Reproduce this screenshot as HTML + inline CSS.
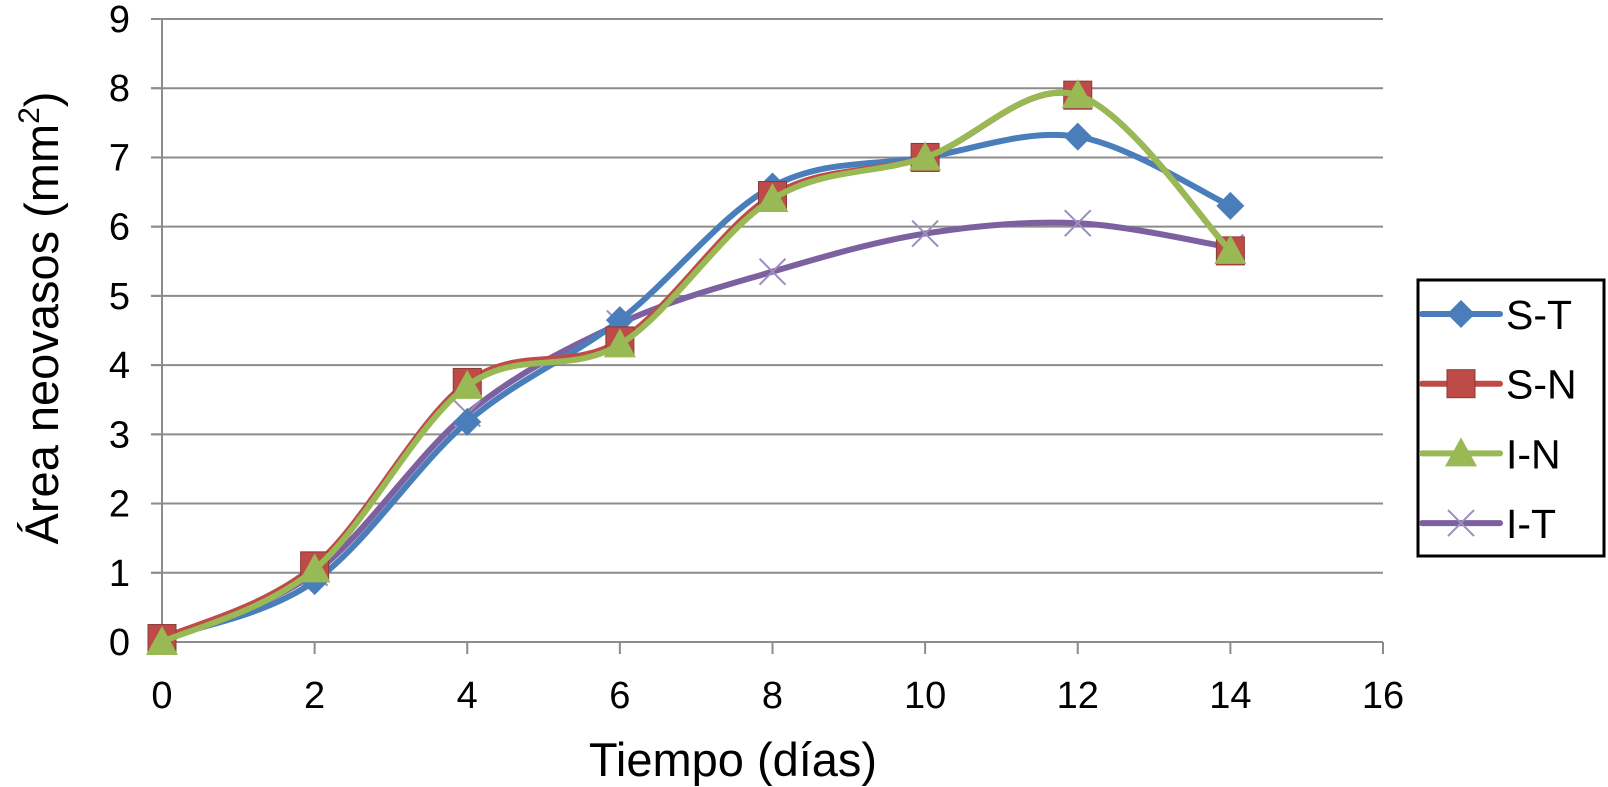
<!DOCTYPE html>
<html><head><meta charset="utf-8"><style>
html,body{margin:0;padding:0;background:#fff;}
svg{display:block;font-family:"Liberation Sans",sans-serif;}
</style></head><body>
<svg id="chart" width="1608" height="787" viewBox="0 0 1608 787">
<g id="grid"></g>
<g id="axes"></g>
<g id="series"></g>
<text x="733" y="776" font-size="47" text-anchor="middle" fill="#000">Tiempo (días)</text>
<text transform="translate(58,318) rotate(-90)" font-size="47" text-anchor="middle" fill="#000">Área neovasos (mm<tspan font-size="30" dy="-19">2</tspan><tspan dy="19">)</tspan></text>
<g id="legend">
<rect x="1418" y="280" width="186" height="276" fill="#fff" stroke="#000" stroke-width="3"/>
</g>
</svg>
<script>
const xDays = [0, 2, 4, 6, 8, 10, 12, 14];
const seriesNames = ["S-T", "S-N", "I-N", "I-T"];
const valuesST = [0.05, 0.88, 3.18, 4.65, 6.58, 7.0, 7.3, 6.3];
const valuesSN = [0.05, 1.1, 3.75, 4.35, 6.45, 7.0, 7.9, 5.65];
const valuesIN = [0.0, 1.05, 3.7, 4.3, 6.4, 7.0, 7.9, 5.65];
const valuesIT = [0.05, 1.0, 3.3, 4.6, 5.35, 5.9, 6.05, 5.7];
const xTicks = [0, 2, 4, 6, 8, 10, 12, 14, 16];
const yTicks = [0, 1, 2, 3, 4, 5, 6, 7, 8, 9];

const NS = "http://www.w3.org/2000/svg";
const X0 = 162, X1 = 1383, Y0 = 642, Y1 = 19;
const sx = v => X0 + v / 16 * (X1 - X0);
const sy = v => Y0 - v / 9 * (Y0 - Y1);
function mk(tag, attrs, parent) {
  const e = document.createElementNS(NS, tag);
  for (const k in attrs) e.setAttribute(k, attrs[k]);
  parent.appendChild(e);
  return e;
}
const grid = document.getElementById("grid"), axes = document.getElementById("axes"), ser = document.getElementById("series"), leg = document.getElementById("legend");

yTicks.forEach(t => {
  if (t > 0) {
    const g = mk("line", {x1: X0 - 11, x2: X1, y1: sy(t), y2: sy(t), stroke: "#8c8c8c", "stroke-width": 2}, grid);
    
    
  }
  const tk = mk("line", {x1: X0 - 11, x2: X0, y1: sy(t), y2: sy(t), stroke: "#8c8c8c", "stroke-width": 2}, axes);
  
  
  const lb = mk("text", {x: X0 - 32, y: sy(t) + 13, "font-size": 38, "text-anchor": "end", fill: "#000"}, axes);
  lb.textContent = t;
  
  
});
xTicks.forEach(t => {
  const tk = mk("line", {x1: sx(t), x2: sx(t), y1: Y0, y2: Y0 + 12, stroke: "#8c8c8c", "stroke-width": 2}, axes);
  
  
  const lb = mk("text", {x: sx(t), y: 708, "font-size": 38, "text-anchor": "middle", fill: "#000"}, axes);
  lb.textContent = t;
  
  
});
const ya = mk("line", {x1: X0, x2: X0, y1: Y1, y2: Y0, stroke: "#8c8c8c", "stroke-width": 2}, axes);


const xa = mk("line", {x1: X0, x2: X1, y1: Y0, y2: Y0, stroke: "#8c8c8c", "stroke-width": 2}, axes);



function smoothPath(pts) {
  let d = "M" + pts[0][0] + "," + pts[0][1];
  for (let i = 0; i < pts.length - 1; i++) {
    const p0 = pts[Math.max(i - 1, 0)], p1 = pts[i], p2 = pts[i + 1], p3 = pts[Math.min(i + 2, pts.length - 1)];
    const c1 = [p1[0] + (p2[0] - p0[0]) / 6, p1[1] + (p2[1] - p0[1]) / 6];
    const c2 = [p2[0] - (p3[0] - p1[0]) / 6, p2[1] - (p3[1] - p1[1]) / 6];
    d += " C" + c1 + " " + c2 + " " + p2;
  }
  return d;
}
function marker(type, x, y, color, parent) {
  let e;
  if (type === "diamond") e = mk("polygon", {points: `${x},${y-14} ${x+14},${y} ${x},${y+14} ${x-14},${y}`, fill: color}, parent);
  else if (type === "square") e = mk("rect", {x: x - 14, y: y - 14, width: 28, height: 28, fill: color, stroke: "#8a3a36", "stroke-width": 1}, parent);
  else if (type === "triangle") e = mk("polygon", {points: `${x},${y-16} ${x+16},${y+13} ${x-16},${y+13}`, fill: color}, parent);
  else e = mk("path", {d: `M${x-13},${y-13}L${x+13},${y+13}M${x-13},${y+13}L${x+13},${y-13}`, stroke: color, "stroke-width": 2, fill: "none"}, parent);
  return e;
}
const allSeries = [valuesST, valuesSN, valuesIN, valuesIT];
const lineColors = ["#4a7ebb", "#be4b48", "#98b954", "#7d60a0"];
const markColors = ["#4a7ebb", "#be4b48", "#98b954", "#9d8cc0"];
const markTypes = ["diamond", "square", "triangle", "x"];
const drawOrder = [3, 0, 1, 2];
drawOrder.forEach(si => {
  const vals = allSeries[si];
  const g = mk("g", {}, ser);
  
  
  const pts = vals.map((v, i) => [sx(xDays[i]), sy(v)]);
  const p = mk("path", {d: smoothPath(pts), fill: "none", stroke: lineColors[si], "stroke-width": 6, "stroke-linejoin": "round"}, g);
  
  
  pts.forEach(pt => {
    const m = marker(markTypes[si], pt[0], pt[1], markColors[si], g);
    
    
  });
});
seriesNames.forEach((n, i) => {
  const y = 314 + i * 69.7;
  const g = mk("g", {}, leg);
  
  
  mk("line", {x1: 1422, x2: 1500, y1: y, y2: y, stroke: lineColors[i], "stroke-width": 6, "stroke-linecap": "round"}, g);
  marker(markTypes[i], 1461, y, markColors[i], g);
  const t = mk("text", {x: 1506, y: y + 15, "font-size": 41, fill: "#000"}, g);
  t.textContent = n;
});
</script>
</body></html>
